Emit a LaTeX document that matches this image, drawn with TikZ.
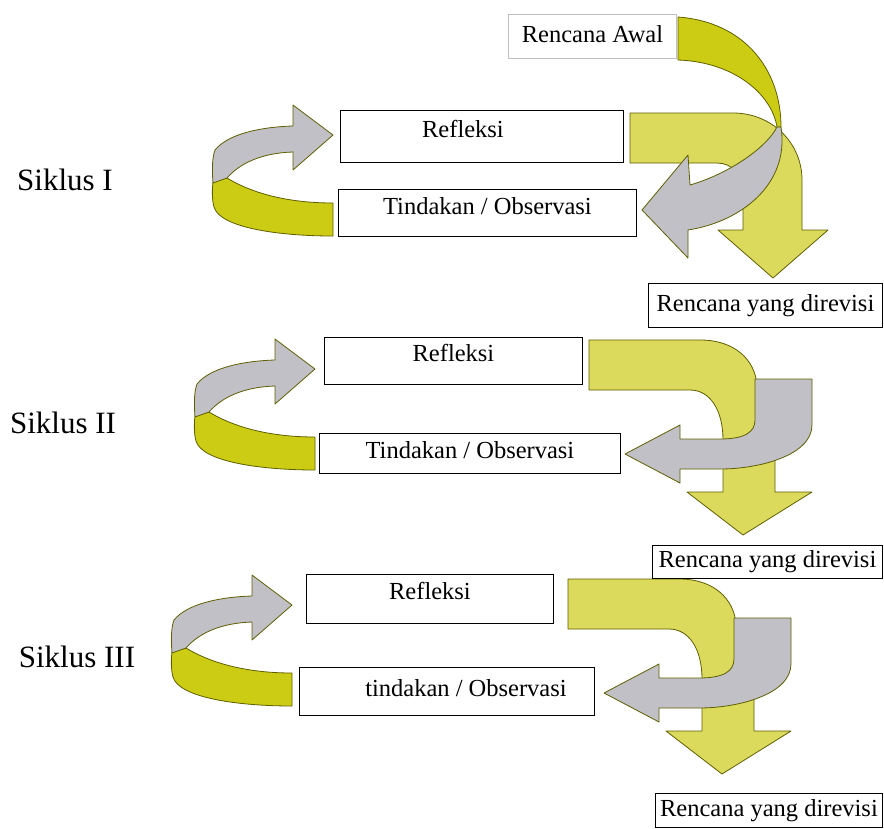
\documentclass[tikz,border=0pt]{standalone}
\usepackage{fontspec}
\setmainfont{Liberation Serif}
\definecolor{darkyel}{RGB}{204,204,20}
\definecolor{lightyel}{RGB}{220,218,92}
\definecolor{ribgray}{RGB}{192,192,198}
\definecolor{olive}{RGB}{95,95,0}
\definecolor{lightframe}{RGB}{190,190,190}
\begin{document}
\begin{tikzpicture}[x=1pt,y=-1pt,
  box/.style={draw=black, line width=0.9pt, fill=white, inner sep=0pt,
    font=\fontsize{24.5}{28}\selectfont, text height=18pt, text depth=#1},
  box/.default=6pt,
  lbl/.style={inner sep=0pt, font=\fontsize{31}{34}\selectfont},
  rib/.style={draw=olive, line width=0.8pt, line join=round}]
\useasboundingbox (0,0) rectangle (884,828);

% ---------- left curved arrows (Siklus I, II, III) ----------
\foreach \dx/\dy in {0/0, -18/234, -41/470}{
\begin{scope}[shift={(\dx,\dy)}]
  \filldraw[rib, fill=darkyel] (213,182) -- (227,178) .. controls (255,195) and (292,203) .. (333,203)
      -- (333,236) .. controls (280,236) and (220,228) .. (214,207) .. controls (212,200) and (212,190) .. cycle;
  \filldraw[rib, fill=ribgray] (215,150) .. controls (228,134) and (260,127) .. (293,126)
      -- (293,105) -- (333,135) -- (293,170) -- (293,152)
      .. controls (262,153) and (240,163) .. (227,178) -- (213,183)
      .. controls (212,170) and (212,158) .. cycle;
\end{scope}}

% ---------- Siklus I right part ----------
\filldraw[rib, fill=lightyel] (630,113) -- (733,113) .. controls (772,113) and (802,143) .. (802,180)
   -- (802,230) -- (828,230) -- (773,278) -- (718,230) -- (743,230) -- (743,190)
   .. controls (743,175) and (732,163) .. (717,163) -- (630,163) -- cycle;
\filldraw[rib, fill=darkyel] (678,17) .. controls (745,22) and (781,70) .. (781,127)
   -- (777,127) .. controls (772,95) and (735,62) .. (678,60) -- cycle;
\filldraw[rib, fill=ribgray] (777,127) -- (781,127) .. controls (790,185) and (740,222) .. (688,230)
   -- (688,258) -- (642,210) -- (688,155) -- (690,185)
   .. controls (725,175) and (765,150) .. cycle;

% ---------- Siklus II and III right parts ----------
\foreach \dx/\dy in {0/0, -21/239}{
\begin{scope}[shift={(\dx,\dy)}]
  \filldraw[rib, fill=lightyel] (589,340) -- (700,340) .. controls (735,340) and (755,360) .. (757,385)
     -- (775,420) -- (775,492) -- (812,492) -- (743,535) -- (687,492) -- (723,492) -- (723,440)
     .. controls (723,410) and (710,390) .. (690,390) -- (589,390) -- cycle;
  \filldraw[rib, fill=ribgray] (755,379) -- (812,379) -- (812,425)
     .. controls (812,455) and (760,469) .. (720,469) -- (680,469) -- (680,483) -- (625,454)
     -- (680,425) -- (680,439) -- (720,439) .. controls (745,439) and (755,432) .. (755,420) -- cycle;
\end{scope}}

% ---------- boxes ----------
\node[box, draw=lightframe, minimum width=168, minimum height=44, anchor=north west] (ra) at (508,14) {Rencana Awal};
\node[box=16pt, minimum width=283, minimum height=52, anchor=north west] (ref1) at (340,110) {\hspace*{-38pt}Refleksi};
\node[box=14pt, minimum width=298, minimum height=47, anchor=north west] (tin1) at (338,189) {Tindakan / Observasi};
\node[box, minimum width=234, minimum height=44, anchor=north west] (rev1) at (648,283) {Rencana yang direvisi};

\node[box=16pt, minimum width=258, minimum height=47, anchor=north west] (ref2) at (324,337) {Refleksi};
\node[box=8pt, minimum width=301, minimum height=40, anchor=north west] (tin2) at (319,433) {Tindakan / Observasi};
\node[box, minimum width=230, minimum height=33, anchor=north west] (rev2) at (652,545) {Rencana yang direvisi};

\node[box=16pt, minimum width=247, minimum height=49, anchor=north west] (ref3) at (306,574) {Refleksi};
\node[box=8pt, minimum width=295, minimum height=48, anchor=north west] (tin3) at (299,667) {\hspace*{38pt}tindakan / Observasi};
\node[box, minimum width=227, minimum height=34, anchor=north west] (rev3) at (655,793) {Rencana yang direvisi};

% ---------- cycle labels ----------
\node[lbl] (s1) at (65,180) {Siklus I};
\node[lbl] (s2) at (63,423) {Siklus II};
\node[lbl] (s3) at (77,657) {Siklus III};
\end{tikzpicture}
\end{document}
